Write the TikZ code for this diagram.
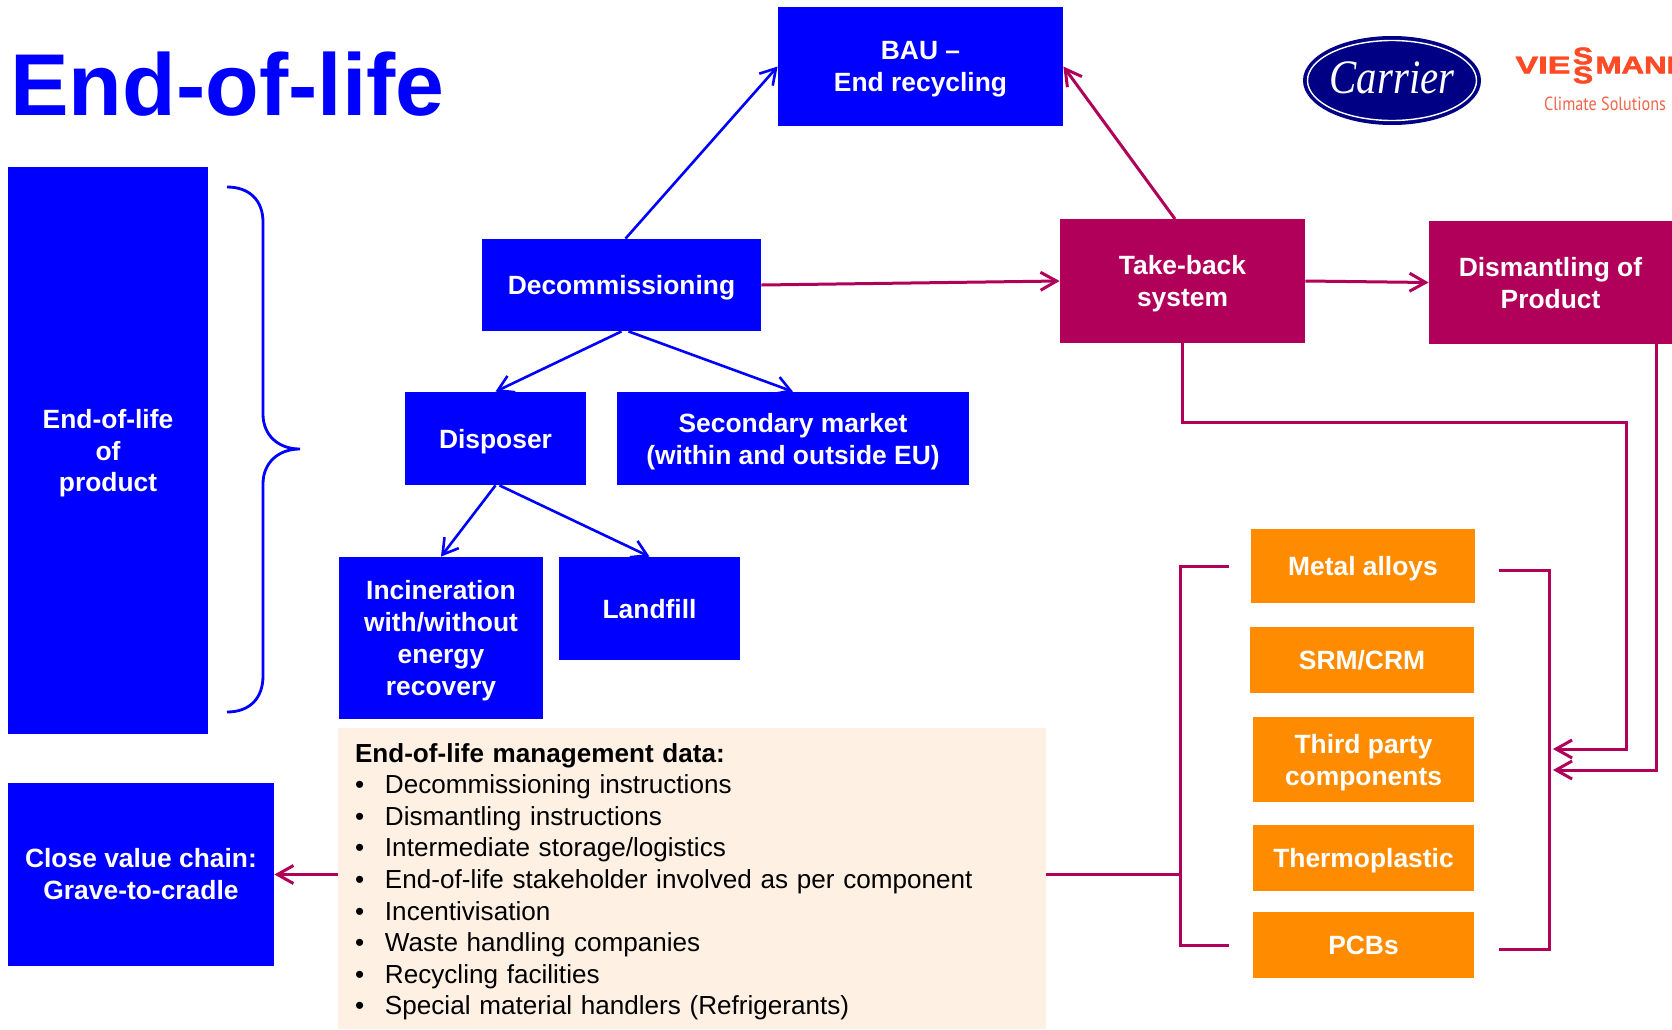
\documentclass[tikz,border=0pt]{standalone}
\usepackage{fontspec}
\setmainfont{Liberation Sans}
\newfontfamily\logoserif{Liberation Serif}
\newfontfamily\logosans{PT Sans}
\newfontfamily\logoheavy[BoldFeatures={FakeBold=2}]{Liberation Sans}
\usetikzlibrary{arrows.meta,shapes.geometric}
\definecolor{plum}{HTML}{B0005A}
\definecolor{amber}{HTML}{FF8C00}
\definecolor{cream}{HTML}{FEF0E2}
\definecolor{navyblue}{HTML}{000085}
\definecolor{logored}{HTML}{FF4A26}
\definecolor{logosalmon}{HTML}{F0654A}
\tikzset{
  box/.style={inner sep=0pt,align=center,text=white,text depth=-1.2pt,font=\fontsize{13.2}{15.95}\selectfont\bfseries},
  bluebox/.style={box,fill=blue},
  plumbox/.style={box,fill=plum},
  amberbox/.style={box,fill=amber},
  blueline/.style={draw=blue,line width=1.3pt,-{Straight Barb[length=7.5pt,width=9pt]}},
  plumline/.style={draw=plum,line width=1.5pt},
  plumarrow/.style={plumline,-{Straight Barb[length=8pt,width=9pt]}},
  logotext/.style={inner sep=0pt,transform shape}
}
\newcommand{\databullet}{\makebox[15pt][l]{\textbullet}}
\begin{document}
\begin{tikzpicture}[x=0.5pt,y=-0.5pt]
\useasboundingbox (0,0) rectangle (1672,1029);

% Draw title
\node (title) [anchor=west,inner sep=0pt,text=blue,font=\fontsize{43.9}{50}\selectfont\bfseries] at (10,84) {End-of-life};

% Draw blue boxes
\node (bau) [bluebox,minimum width=142.5pt,minimum height=59.5pt] at (920.5,66.5) {BAU --\\End recycling};
\node (decommissioning) [bluebox,minimum width=139.5pt,minimum height=46pt] at (621.5,285) {Decommissioning};
\node (disposer) [bluebox,minimum width=90.5pt,minimum height=46.5pt] at (495.5,438.5) {Disposer};
\node (secondary) [bluebox,minimum width=176pt,minimum height=46.5pt] at (793,438.5) {Secondary market\\(within and outside EU)};
\node (incineration) [bluebox,minimum width=102pt,minimum height=81pt] at (441,638) {Incineration\\with/without\\energy\\recovery};
\node (landfill) [bluebox,minimum width=90.5pt,minimum height=51.5pt] at (649.5,608.5) {Landfill};
\node (product) [bluebox,minimum width=100pt,minimum height=283.5pt] at (108,450.5) {End-of-life\\of\\product};
\node (closechain) [bluebox,text depth=0.3pt,minimum width=133pt,minimum height=91.5pt] at (141,874.5) {Close value chain:\\Grave-to-cradle};

% Draw plum boxes
\node (takeback) [plumbox,minimum width=122.5pt,minimum height=62pt] at (1182.5,281) {Take-back\\system};
\node (dismantling) [plumbox,minimum width=121.5pt,minimum height=61.5pt] at (1550.5,282.5) {Dismantling of\\Product};

% Draw material boxes
\node (metal) [amberbox,minimum width=112pt,minimum height=37pt] at (1363,566) {Metal alloys};
\node (srm) [amberbox,minimum width=112pt,minimum height=33pt] at (1362,660) {SRM/CRM};
\node (thirdparty) [amberbox,minimum width=110.5pt,minimum height=42.5pt] at (1363.5,759.5) {Third party\\components};
\node (thermoplastic) [amberbox,minimum width=110.5pt,minimum height=33pt] at (1363.5,858) {Thermoplastic};
\node (pcbs) [amberbox,minimum width=110.5pt,minimum height=33pt] at (1363.5,945) {PCBs};

% Draw data panel
\node (data) [fill=cream,inner xsep=8.5pt,inner ysep=0pt,minimum height=150.5pt,text width=337pt,align=left,font=\fontsize{13.05}{15.8}\selectfont] at (692,878.5) {%
\rule{0pt}{12.7pt}\textbf{End-of-life management data:}\\
\databullet Decommissioning instructions\\
\databullet Dismantling instructions\\
\databullet Intermediate storage/logistics\\
\databullet End-of-life stakeholder involved as per component\\
\databullet Incentivisation\\
\databullet Waste handling companies\\
\databullet Recycling facilities\\
\databullet Special material handlers (Refrigerants)};

% Draw brace
\draw [draw=blue,line width=1.4pt] (227,187) .. controls (250,187) and (263,201) .. (263,222) -- (263,414) .. controls (263,435) and (278,449) .. (300,449) .. controls (278,449) and (263,463) .. (263,484) -- (263,676) .. controls (263,698) and (250,712) .. (227,712);

% Blue arrows
\draw [blueline] (decommissioning.north) ++(4,0) -- (bau.west);
\draw [blueline] (decommissioning.south) -- (disposer.north);
\draw [blueline] (decommissioning.south) ++(7,0) -- (secondary.north);
\draw [blueline] (disposer.south) -- (incineration.north);
\draw [blueline] (disposer.south) ++(4,0) -- (landfill.north);

% Plum arrows
\coordinate (takebackexit) at (1175,219);
\coordinate (takebackturn) at (1626,422);
\coordinate (takebackend) at (1553,749);
\coordinate (dismantlingexit) at (1656,344);
\coordinate (dismantlingend) at (1553,770);
\draw [plumarrow] (decommissioning.east) -- (takeback.west);
\draw [plumarrow] (takebackexit) -- (bau.east);
\draw [plumarrow] (takeback.east) -- (dismantling.west);
\draw [plumarrow] (takeback.south) |- (takebackturn) |- (takebackend);
\draw [plumarrow] (dismantlingexit) |- (dismantlingend);

% Brackets round the materials
\coordinate (metalleft) at (1229,566);
\coordinate (pcbsleft) at (1229,945);
\coordinate (leftbar) at (1180,874.5);
\coordinate (metalright) at (1499,570);
\coordinate (pcbsright) at (1499,949);
\coordinate (rightbar) at (1549,760);
\draw [plumline] (metalleft) -| (leftbar) |- (pcbsleft);
\draw [plumline] (metalright) -| (rightbar) |- (pcbsright);
\draw [plumline] (data.east |- closechain.east) -- (leftbar);
\draw [plumarrow] (data.west |- closechain.east) -- (closechain.east);

% Logos
\node (carrieroval) [ellipse,fill=navyblue,inner sep=0pt,minimum width=89pt,minimum height=44.5pt] at (1392,80.5) {};
\node (carrierring) [ellipse,draw=white,line width=0.7pt,inner sep=0pt,minimum width=84.5pt,minimum height=40pt] at (1392,80.5) {};
\node (carrier) [logotext,text=white,xscale=0.85,font=\fontsize{24}{24}\selectfont\logoserif\itshape] at (1392,78) {Carrier};
\begin{scope}
\clip (1500,30) rectangle (1672,130);
\node (viesA) [logotext,anchor=east,text=logored,xscale=1.42,font=\fontsize{12}{12}\selectfont\logoheavy\bfseries] at (1571,65) {VIE};
\node (viesB) [logotext,text=logored,xscale=1.25,font=\fontsize{12}{12}\selectfont\logoheavy\bfseries] at (1583,56) {S};
\node (viesC) [logotext,text=logored,xscale=1.25,font=\fontsize{12}{12}\selectfont\logoheavy\bfseries] at (1583,75) {S};
\node (viesD) [logotext,anchor=west,text=logored,xscale=1.3,font=\fontsize{12}{12}\selectfont\logoheavy\bfseries] at (1595,65) {MANN};
\end{scope}
\node (climate) [logotext,text=logosalmon,xscale=0.85,font=\fontsize{9.5}{10}\selectfont\logosans] at (1605,104) {Climate Solutions};
\end{tikzpicture}
\end{document}
